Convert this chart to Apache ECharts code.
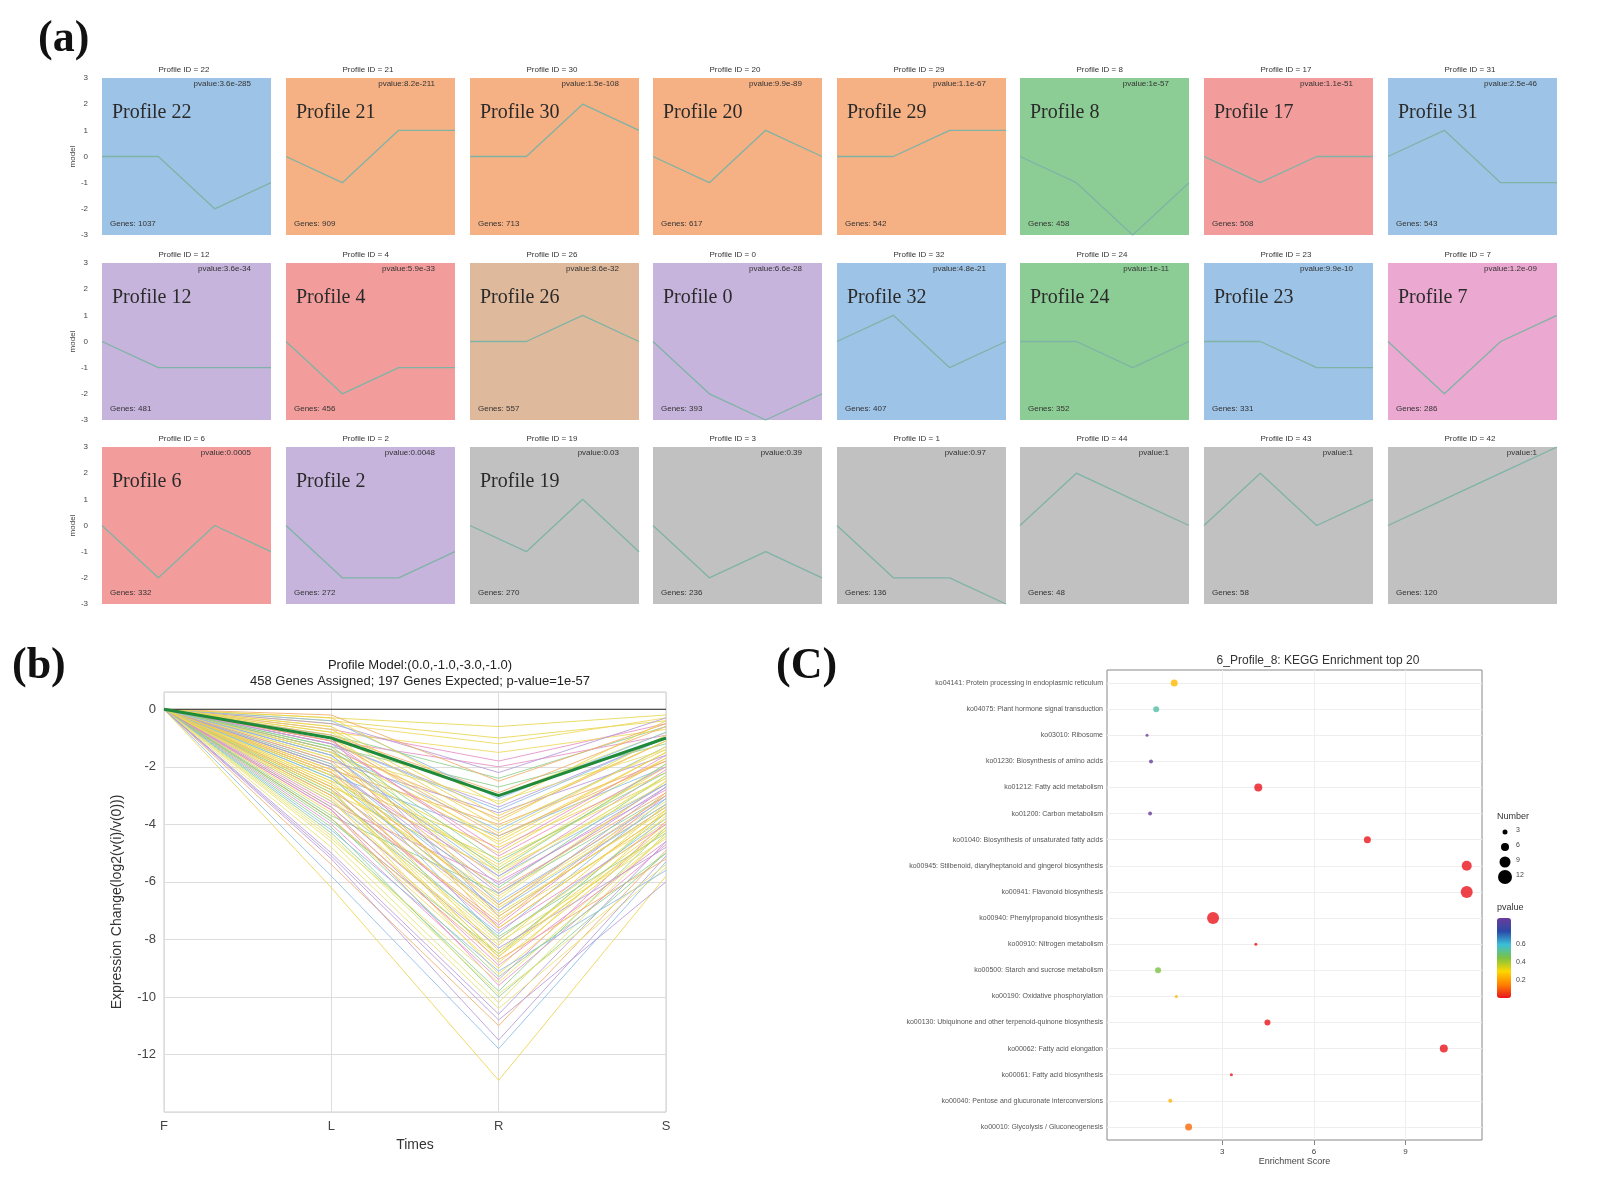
<!DOCTYPE html>
<html>
<head>
<meta charset="utf-8">
<title>STEM profiles</title>
<script src="https://cdn.jsdelivr.net/npm/echarts@6/dist/echarts.min.js"></script>
</head>
<body style="margin:0;background:#fff">
<div id="main" style="width:1599px;height:1199px;"></div>
<script type="text/javascript">
// panel (a): profile models
var profIds = [22,21,30,20,29,8,17,31, 12,4,26,0,32,24,23,7, 6,2,19,3,1,44,43,42];
var profModels = [
  [0,0,-2,-1],[0,-1,1,1],[0,0,2,1],[0,-1,1,0],[0,0,1,1],[0,-1,-3,-1],[0,-1,0,0],[0,1,-1,-1],
  [0,-1,-1,-1],[0,-2,-1,-1],[0,0,1,0],[0,-2,-3,-2],[0,1,-1,0],[0,0,-1,0],[0,0,-1,-1],[0,-2,0,1],
  [0,-2,0,-1],[0,-2,-2,-1],[0,-1,1,-1],[0,-2,-1,-2],[0,-2,-2,-3],[0,2,1,0],[0,2,0,1],[0,1,2,3]
];
var profGenes = [1037,909,713,617,542,458,508,543, 481,456,557,393,407,352,331,286, 332,272,270,236,136,48,58,120];
var profPvalues = ['3.6e-285','8.2e-211','1.5e-108','9.9e-89','1.1e-67','1e-57','1.1e-51','2.5e-46',
  '3.6e-34','5.9e-33','8.6e-32','6.6e-28','4.8e-21','1e-11','9.9e-10','1.2e-09',
  '0.0005','0.0048','0.03','0.39','0.97','1','1','1'];
var profGroup = ['blue','orange','orange','orange','orange','green','red','blue',
  'purple','red','tan','purple','blue','green','blue','pink',
  'red','purple','gray','gray','gray','gray','gray','gray'];
var profLabelShown = [1,1,1,1,1,1,1,1, 1,1,1,1,1,1,1,1, 1,1,1,0,0,0,0,0];
var groupColor = {blue:'#9dc3e6', orange:'#f5b084', green:'#8ccd95', red:'#f29d9b',
  purple:'#c6b4dd', tan:'#dfb99b', pink:'#eba8d0', gray:'#c1c1c1'};

// panel (b): profile 8 genes (hand-read sample of lines), times F L R S
var times = ['F','L','R','S'];
var modelLine = [0,-1,-3,-1];
var geneL = [-0.3,-0.5,-0.7,-0.9,-1.0,-1.2,-1.4,-1.5,-1.7,-1.9,-2.0,-2.2,-2.4,-2.6,-2.8,-3.0,-3.2,-3.4,-3.6,-3.8,
  -4.0,-4.3,-4.6,-5.0,-5.4,-5.8,-6.2,-0.4,-0.8,-1.1,-1.3,-1.6,-1.8,-2.1,-2.3,-2.5,-2.7,-2.9,-3.3,-3.7,
  -0.6,-1.0,-1.4,-1.9,-2.3,-2.8,-3.1,-3.5,-4.1,-4.8,-0.5,-0.9,-1.2,-1.5,-2.0,-2.6,-3.0,-3.9,-4.5,-5.2,
  -0.2,-0.4,-0.6,-0.8,-1.0,-1.1,-1.3,-1.5,-1.6,-1.8,-2.0,-2.1,-2.3,-2.5,-2.7,-2.9,-3.1,-3.4,-3.8,-4.2,
  -0.3,-0.7,-1.0,-1.2,-1.4,-1.7,-2.0,-2.2,-2.4,-2.7,-3.0,-3.2,-3.5,-3.8,-4.4,-5.1,-1.1,-1.6,-2.2,-2.8];
var geneR = [-0.6,-1.2,-1.8,-2.4,-3.0,-3.4,-3.8,-4.2,-4.6,-5.0,-5.4,-5.8,-6.2,-6.6,-7.0,-7.4,-7.8,-8.2,-8.6,-9.0,
  -9.4,-9.8,-10.2,-10.6,-11.0,-11.8,-12.9,-1.0,-1.5,-2.0,-2.7,-3.2,-3.6,-4.0,-4.4,-4.8,-5.2,-5.6,-6.0,-6.4,
  -6.8,-7.2,-7.6,-8.0,-8.4,-8.8,-9.2,-9.6,-10.0,-10.4,-2.2,-2.9,-3.5,-4.5,-5.5,-6.5,-7.5,-8.5,-9.5,-11.5,
  -2.5,-3.1,-3.7,-4.1,-4.7,-5.1,-5.3,-5.7,-6.1,-6.3,-6.7,-6.9,-7.1,-7.3,-7.7,-7.9,-8.1,-8.3,-8.7,-9.1,
  -3.3,-3.9,-4.3,-4.9,-5.6,-5.9,-6.4,-6.8,-7.0,-7.6,-8.0,-8.5,-8.9,-9.3,-9.9,-10.8,-4.4,-5.8,-7.2,-8.6];
var geneS = [-0.2,-0.3,-0.5,-0.6,-0.8,-1.0,-1.1,-1.3,-1.5,-1.7,-1.9,-2.1,-2.3,-2.5,-2.7,-2.9,-3.1,-3.3,-3.5,-3.7,
  -3.9,-4.1,-4.3,-4.6,-4.9,-5.3,-5.8,-0.4,-0.7,-0.9,-1.2,-1.4,-1.6,-1.8,-2.0,-2.2,-2.4,-2.6,-2.8,-3.0,
  -3.2,-3.4,-3.6,-3.8,-4.0,-4.2,-4.4,-4.7,-5.0,-5.5,-0.3,-0.6,-1.0,-1.5,-2.0,-2.5,-3.0,-3.6,-4.4,-5.1,
  -0.5,-0.8,-1.1,-1.4,-1.7,-2.0,-2.2,-2.4,-2.6,-2.9,-3.1,-3.3,-3.5,-3.8,-4.0,-4.3,-4.5,-4.8,-5.2,-5.6,
  -0.4,-0.9,-1.3,-1.6,-1.9,-2.3,-2.7,-3.0,-3.3,-3.6,-3.9,-4.2,-4.6,-5.0,-5.4,-6.0,-1.8,-2.6,-3.4,-4.1];
var genePalette = ['#e8d650','#efd85a','#e58fc6','#8ecf8e','#e6e070','#b59ad8','#f1ad6a','#8bbbe8','#ecd34a'];

// panel (c): KEGG enrichment
var keggTerms = ['ko04141: Protein processing in endoplasmic reticulum','ko04075: Plant hormone signal transduction',
  'ko03010: Ribosome','ko01230: Biosynthesis of amino acids','ko01212: Fatty acid metabolism','ko01200: Carbon metabolism',
  'ko01040: Biosynthesis of unsaturated fatty acids','ko00945: Stilbenoid, diarylheptanoid and gingerol biosynthesis',
  'ko00941: Flavonoid biosynthesis','ko00940: Phenylpropanoid biosynthesis','ko00910: Nitrogen metabolism',
  'ko00500: Starch and sucrose metabolism','ko00190: Oxidative phosphorylation',
  'ko00130: Ubiquinone and other terpenoid-quinone biosynthesis','ko00062: Fatty acid elongation',
  'ko00061: Fatty acid biosynthesis','ko00040: Pentose and glucuronate interconversions','ko00010: Glycolysis / Gluconeogenesis'];
var keggScore = [1.43,0.84,0.54,0.67,4.18,0.64,7.75,11.0,11.0,2.7,4.1,0.9,1.5,4.48,10.25,3.3,1.3,1.9];
var keggNumber = [5,4,1,2,6,2,5,8,10,10,1,4,1,4,6,1,2,5];
var keggPvalue = [0.25,0.55,0.9,0.9,0.0,0.9,0.0,0.0,0.0,0.0,0.0,0.45,0.24,0.0,0.0,0.0,0.24,0.12];
var scoreTicks = [3,6,9];
var numberTicks = [3,6,9,12];
var pvalueTicks = [0.6,0.4,0.2];

var grids = [], xAxes = [], yAxes = [], series = [], titles = [], graphics = [];
var colX = [102,286,470,653,837,1020,1204,1388], rowY = [78,263,447], pw = 169, ph = 157;
var serif = '"Liberation Serif","DejaVu Serif",serif';

profIds.forEach(function(id, i) {
  var c = i % 8, r = Math.floor(i / 8), x = colX[c], y = rowY[r];
  grids.push({left:x, top:y, width:pw, height:ph, show:true, backgroundColor:groupColor[profGroup[i]], borderWidth:0});
  xAxes.push({type:'category', gridIndex:i, data:times, boundaryGap:false, show:false});
  yAxes.push({type:'value', gridIndex:i, min:-3, max:3, interval:1, show:c === 0,
    axisLine:{show:false}, axisTick:{show:false}, splitLine:{show:false},
    axisLabel:{fontSize:8, color:'#444', margin:14},
    name:'model', nameLocation:'middle', nameGap:22, nameTextStyle:{fontSize:8, color:'#444'}});
  series.push({type:'line', xAxisIndex:i, yAxisIndex:i, data:profModels[i], symbol:'none', silent:true,
    lineStyle:{color:'#7fb3a5', width:1.3}});
  graphics.push({type:'text', left:x + pw/2 - 28, top:y - 12, style:{text:'Profile ID = ' + id, fontSize:8, fill:'#333'}});
  graphics.push({type:'text', right:1599 - x - pw + 20, top:y + 2, style:{text:'pvalue:' + profPvalues[i], fontSize:8, fill:'#333'}});
  if (profLabelShown[i]) graphics.push({type:'text', left:x + 10, top:y + 25, style:{text:'Profile ' + id, fontSize:20, fill:'#2a2a2a', fontFamily:serif}});
  graphics.push({type:'text', left:x + 8, top:y + ph - 15, style:{text:'Genes: ' + profGenes[i], fontSize:8, fill:'#333'}});
});

// panel (b)
var gb = grids.length;
grids.push({left:164, top:692, width:502, height:420, show:true, borderColor:'#ccc', borderWidth:1});
xAxes.push({type:'category', gridIndex:gb, data:times, boundaryGap:false,
  axisLine:{show:false}, axisTick:{show:false}, axisLabel:{fontSize:13, color:'#444', margin:8},
  splitLine:{show:true, lineStyle:{color:'#ddd'}}, name:'Times', nameLocation:'middle', nameGap:26, nameTextStyle:{fontSize:14, color:'#333'}});
yAxes.push({type:'value', gridIndex:gb, min:-14, max:0.6, interval:2,
  axisLine:{show:false}, axisTick:{show:false}, splitLine:{lineStyle:{color:'#ddd'}},
  axisLabel:{fontSize:13, color:'#444', formatter:function(v){ return (v < -13 || v > 0) ? '' : v; }},
  name:'Expression Change(log2(v(i)/v(0)))', nameLocation:'middle', nameGap:40, nameTextStyle:{fontSize:14, color:'#333'}});
geneL.forEach(function(l, k) {
  series.push({type:'line', xAxisIndex:gb, yAxisIndex:gb, data:[0, l, geneR[k], geneS[k]], symbol:'none', silent:true,
    lineStyle:{color:genePalette[k % genePalette.length], width:1, opacity:0.85}});
});
series.push({type:'line', xAxisIndex:gb, yAxisIndex:gb, data:[0,0,0,0], symbol:'none', silent:true, lineStyle:{color:'#222', width:1.2}});
series.push({type:'line', xAxisIndex:gb, yAxisIndex:gb, data:modelLine, symbol:'none', silent:true, lineStyle:{color:'#1f8a3a', width:3}});
titles.push({text:'Profile Model:(0.0,-1.0,-3.0,-1.0)\n458 Genes Assigned; 197 Genes Expected; p-value=1e-57',
  left:415, top:652, textAlign:'center', textStyle:{fontSize:13, fontWeight:'normal', color:'#222', lineHeight:16}});

// panel (c)
var gc = grids.length;
grids.push({left:1107, top:670, width:375, height:470, show:true, borderColor:'#888', borderWidth:1});
xAxes.push({type:'value', gridIndex:gc, min:-0.77, max:11.5,
  axisLine:{show:false},
  axisTick:{show:true, customValues:scoreTicks, lineStyle:{color:'#888'}},
  splitLine:{show:true, lineStyle:{color:'#eee'}},
  axisLabel:{fontSize:8, color:'#444', customValues:scoreTicks},
  name:'Enrichment Score', nameLocation:'middle', nameGap:14, nameTextStyle:{fontSize:9, color:'#444'}});
yAxes.push({type:'category', gridIndex:gc, data:keggTerms, inverse:true,
  axisLine:{show:false}, axisTick:{show:true, alignWithLabel:true, length:3, lineStyle:{color:'#888'}},
  splitLine:{show:false}, axisLabel:{fontSize:7, color:'#555', margin:4}});
series.push({type:'scatter', xAxisIndex:gc, yAxisIndex:gc, data:[], z:1, silent:true,
  markLine:{silent:true, symbol:'none', label:{show:false}, lineStyle:{color:'#eee', type:'solid', width:1},
    data:keggTerms.map(function(t){ return {yAxis:t}; })}});
series.push({type:'scatter', xAxisIndex:gc, yAxisIndex:gc, z:5,
  data:keggScore.map(function(s, k){ return [s, k, keggNumber[k], keggPvalue[k]]; }),
  symbolSize:function(d){ return 2 + d[2] * 1.0; }});
titles.push({text:'6_Profile_8: KEGG Enrichment top 20', left:1313, top:650, textAlign:'center',
  textStyle:{fontSize:12, fontWeight:'normal', color:'#333'}});

// legends of panel (c)
graphics.push({type:'text', left:1497, top:812, style:{text:'Number', fontSize:9, fill:'#333'}});
numberTicks.forEach(function(n, k) {
  var cy = 832 + k * 15;
  graphics.push({type:'circle', shape:{cx:1505, cy:cy, r:(2 + n) / 2}, style:{fill:'#000'}});
  graphics.push({type:'text', left:1516, top:cy - 5, style:{text:String(n), fontSize:7, fill:'#444'}});
});
graphics.push({type:'text', left:1497, top:903, style:{text:'pvalue', fontSize:9, fill:'#333'}});
pvalueTicks.forEach(function(v) {
  graphics.push({type:'text', left:1516, top:998 - 80 * v / 0.9 - 4, style:{text:String(v), fontSize:7, fill:'#444'}});
});

// panel letters
graphics.push({type:'text', left:38, top:18, style:{text:'(a)', fontSize:44, fontWeight:'bold', fill:'#111', fontFamily:serif}});
graphics.push({type:'text', left:12, top:645, style:{text:'(b)', fontSize:44, fontWeight:'bold', fill:'#111', fontFamily:serif}});
graphics.push({type:'text', left:776, top:645, style:{text:'(C)', fontSize:44, fontWeight:'bold', fill:'#111', fontFamily:serif}});

var myChart = echarts.init(document.getElementById('main'));
myChart.setOption({
  animation:false,
  textStyle:{fontFamily:'"Liberation Sans",Arial,sans-serif'},
  title:titles,
  grid:grids, xAxis:xAxes, yAxis:yAxes, series:series,
  visualMap:[{type:'continuous', seriesIndex:series.length - 1, dimension:3, min:0, max:0.9,
    inRange:{color:['#e8141c','#ff8000','#ffd700','#7cc242','#3bbfd9','#2b4aa8','#6a3d9a']},
    left:1497, top:918, padding:0, itemWidth:14, itemHeight:80, text:null, showLabel:false, calculable:false}],
  graphic:graphics
});
</script>
</body>
</html>
